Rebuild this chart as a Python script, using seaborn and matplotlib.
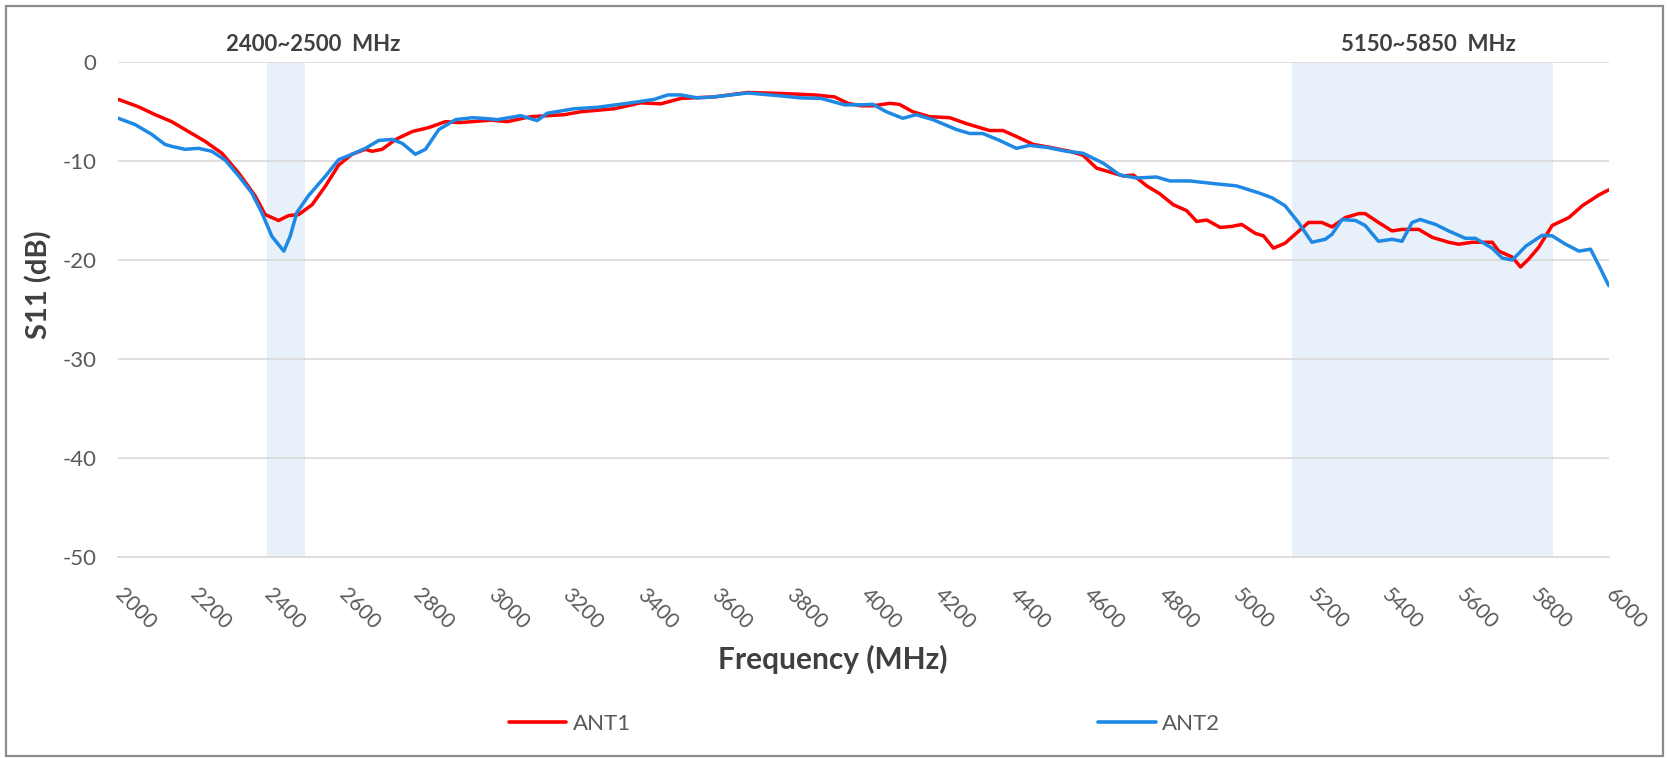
import matplotlib
matplotlib.use("Agg")
import matplotlib.pyplot as plt
from matplotlib.patches import Rectangle
from matplotlib.lines import Line2D
import numpy as np
import pandas as pd
import seaborn as sns

# ---------------- data ----------------
ant1_freq = [2000, 2054, 2099, 2143, 2188, 2233, 2278, 2323, 2367, 2394, 2430, 2457, 2484,
             2520, 2556, 2591, 2627, 2663, 2681, 2708, 2744, 2789, 2833, 2878, 2914, 2950,
             3000, 3044, 3106, 3196, 3241, 3330, 3402, 3456, 3510, 3599, 3689, 3778, 3868,
             3922, 3958, 3993, 4025, 4070, 4096, 4132, 4177, 4231, 4276, 4338, 4374, 4410,
             4455, 4500, 4553, 4589, 4625, 4661, 4697, 4724, 4760, 4795, 4831, 4867, 4894,
             4921, 4957, 4988, 5015, 5051, 5073, 5100, 5131, 5158, 5194, 5230, 5257, 5293,
             5329, 5346, 5382, 5418, 5445, 5490, 5526, 5570, 5597, 5633, 5687, 5705, 5741,
             5763, 5785, 5812, 5848, 5893, 5929, 5974, 6000]
ant1_s11 = [-3.75, -4.5, -5.3, -6.0, -7.0, -8.0, -9.2, -11.2, -13.5, -15.4, -16.0, -15.5, -15.4,
            -14.4, -12.5, -10.4, -9.3, -8.8, -9.0, -8.8, -7.8, -7.0, -6.6, -6.0, -6.1, -6.0,
            -5.85, -6.0, -5.5, -5.3, -5.0, -4.7, -4.1, -4.2, -3.65, -3.5, -3.05, -3.15, -3.3,
            -3.5, -4.15, -4.4, -4.4, -4.15, -4.25, -5.0, -5.5, -5.6, -6.2, -6.9, -6.9, -7.5,
            -8.3, -8.6, -9.0, -9.4, -10.7, -11.1, -11.5, -11.4, -12.5, -13.3, -14.4, -15.0, -16.1,
            -15.95, -16.7, -16.6, -16.4, -17.3, -17.55, -18.8, -18.3, -17.4, -16.2, -16.2, -16.65, -15.7,
            -15.3, -15.3, -16.2, -17.05, -16.9, -16.9, -17.7, -18.2, -18.4, -18.2, -18.2, -19.1, -19.7,
            -20.7, -19.9, -18.7, -16.5, -15.7, -14.5, -13.4, -12.9]

ant2_freq = [2000, 2045, 2090, 2125, 2143, 2179, 2215, 2251, 2287, 2323, 2358, 2385, 2412,
             2444, 2461, 2479, 2510, 2556, 2591, 2627, 2663, 2699, 2735, 2762, 2797, 2824,
             2860, 2905, 2950, 2990, 3017, 3080, 3124, 3151, 3223, 3286, 3375, 3438, 3474,
             3510, 3554, 3599, 3689, 3778, 3832, 3886, 3949, 3993, 4025, 4061, 4105, 4141,
             4186, 4249, 4285, 4320, 4365, 4410, 4446, 4491, 4545, 4589, 4643, 4688, 4733,
             4786, 4822, 4876, 4948, 5001, 5060, 5096, 5131, 5167, 5203, 5239, 5257, 5284,
             5320, 5346, 5382, 5418, 5445, 5472, 5494, 5535, 5570, 5615, 5642, 5687, 5714,
             5741, 5777, 5821, 5848, 5884, 5920, 5951, 5974, 6000]
ant2_s11 = [-5.66, -6.3, -7.3, -8.3, -8.5, -8.8, -8.7, -9.0, -9.9, -11.5, -13.2, -15.2, -17.6,
            -19.1, -17.6, -15.2, -13.5, -11.5, -9.85, -9.3, -8.7, -7.9, -7.8, -8.2, -9.3, -8.8,
            -6.8, -5.8, -5.6, -5.7, -5.8, -5.4, -5.9, -5.15, -4.7, -4.55, -4.1, -3.75, -3.3,
            -3.3, -3.6, -3.5, -3.1, -3.4, -3.6, -3.65, -4.3, -4.3, -4.25, -5.0, -5.66, -5.3,
            -5.8, -6.8, -7.2, -7.2, -7.9, -8.7, -8.4, -8.6, -9.0, -9.2, -10.2, -11.4, -11.7,
            -11.6, -12.0, -12.0, -12.3, -12.5, -13.2, -13.7, -14.5, -16.2, -18.2, -17.9, -17.4, -15.9,
            -16.0, -16.5, -18.1, -17.9, -18.1, -16.2, -15.9, -16.4, -17.05, -17.8, -17.8, -18.8, -19.8,
            -20.0, -18.6, -17.5, -17.55, -18.4, -19.1, -18.9, -20.6, -22.6]

series_names = ["ANT1", "ANT2"]
series_colors = ["#FF0000", "#1E88E5"]
bands = [(2400, 2500), (5150, 5850)]
band_labels = ["2400~2500  MHz", "5150~5850  MHz"]
band_label_x = [2523, 5515]
y_ticks = [0, -10, -20, -30, -40, -50]
x_major = list(range(2000, 6001, 200))
x_minor = list(range(2000, 6001, 100))

df = pd.concat([
    pd.DataFrame({"freq": ant1_freq, "s11": ant1_s11, "ant": "ANT1"}),
    pd.DataFrame({"freq": ant2_freq, "s11": ant2_s11, "ant": "ANT2"}),
], ignore_index=True)

# ---------------- style ----------------
sns.set_theme(style="white")
plt.rcParams["font.family"] = ["Lato", "DejaVu Sans"]

fig = plt.figure(figsize=(16.67, 7.58), dpi=100)
ax = fig.add_axes([0.0710, 0.2656, 0.8941, 0.6522])

for (b0, b1) in bands:
    ax.axvspan(b0, b1, ymin=0, ymax=1, color="#E8F0F9", zorder=0, lw=0)

sns.lineplot(data=df, x="freq", y="s11", hue="ant", palette=dict(zip(series_names, series_colors)),
             estimator=None, sort=False, linewidth=2.5, ax=ax, legend=False, zorder=3)

ax.set_xlim(2000, 6000)
ax.set_ylim(-50, 0)
ax.set_axisbelow(True)
ax.set_yticks(y_ticks)
ax.set_xticks(x_major)
ax.set_xticks(x_minor, minor=True)
ax.yaxis.grid(True, color="#D9D9D9", linewidth=1.2)
ax.xaxis.grid(False)
for s in ["top", "right", "left"]:
    ax.spines[s].set_visible(False)
ax.spines["bottom"].set_color("#D9D9D9")
ax.spines["bottom"].set_linewidth(1.2)

ax.tick_params(axis="x", which="both", direction="in", length=6.5, width=1.0, color="#CFCFCF")
ax.tick_params(axis="x", which="major", pad=25, labelsize=15, labelcolor="#595959")
ax.tick_params(axis="y", length=0, pad=16, labelsize=16, labelcolor="#595959")
ax.set_yticklabels([str(v) for v in y_ticks])
for lab in ax.get_xticklabels():
    lab.set_rotation(-45)
    lab.set_ha("left")
    lab.set_va("center")
    lab.set_rotation_mode("anchor")

ax.set_xlabel("Frequency (MHz)", fontsize=21.5, fontweight="bold", color="#404040")
ax.xaxis.set_label_coords(0.4796, -0.178)
ax.set_ylabel("S11 (dB)", fontsize=21, fontweight="bold", color="#404040")
ax.yaxis.set_label_coords(-0.044, 0.5506)

for lx, txt in zip(band_label_x, band_labels):
    ax.text(lx, 1.8, txt, ha="center", va="center", fontsize=16, fontweight="bold",
            color="#404040", clip_on=False)

handles = [Line2D([0], [0], color=c, lw=2.6) for c in series_colors]
fig.legend(handles, series_names, loc="center", bbox_to_anchor=(0.5186, 0.0449), ncol=2,
           frameon=False, fontsize=16, handlelength=2.6, handletextpad=0.3,
           columnspacing=21, labelcolor="#595959")

fig.patches.append(Rectangle((0.0036, 0.0026), 0.994, 0.9894, transform=fig.transFigure,
                             fill=False, edgecolor="#8C8C8C", linewidth=1.6))

fig.savefig("out.png", dpi=100)
